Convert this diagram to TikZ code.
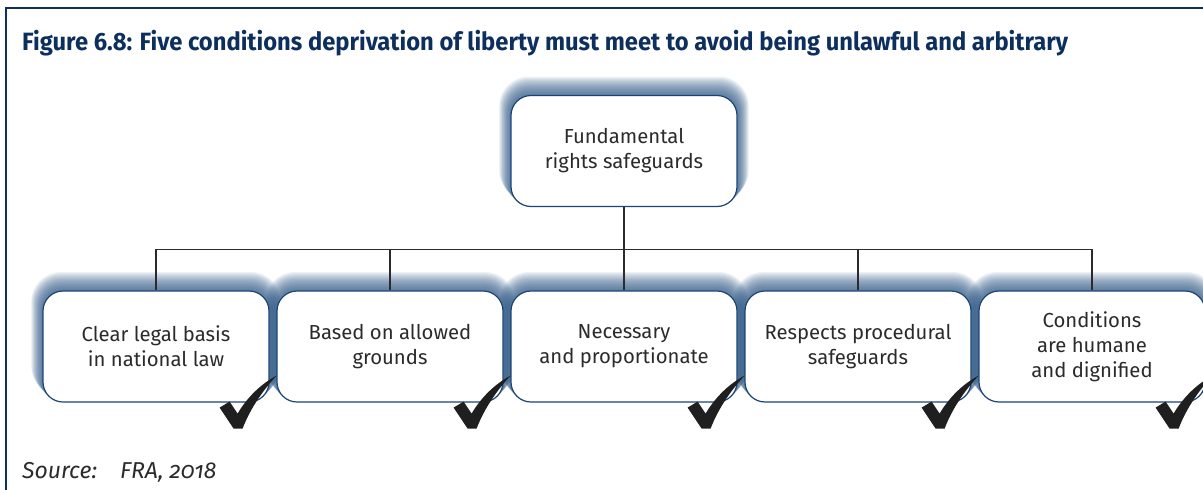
\documentclass[tikz,border=0pt]{standalone}
\usepackage{fontspec}
\setsansfont{Fira Sans}
\renewcommand\familydefault{\sfdefault}
\newfontfamily\titlefont{Fira Sans}[FakeStretch=0.95]
\usetikzlibrary{positioning, backgrounds, calc}

\definecolor{navy}{HTML}{0D2F5E}
\definecolor{glowblue}{HTML}{24507F}
\definecolor{boxline}{HTML}{1B4476}
\definecolor{inkgrey}{HTML}{2B2B2B}

\tikzset{
  box/.style={draw=boxline, line width=1.2pt, fill=white, rounded corners=20pt,
    minimum width=226pt, minimum height=111pt, align=center, inner sep=0pt,
    font=\fontsize{20.3}{25}\selectfont, text=inkgrey},
  link/.style={draw=inkgrey, line width=1.2pt},
  tick/.style={fill=black!88},
  frame/.style={draw=navy, line width=1.5pt},
}

\begin{document}
\begin{tikzpicture}[x=1pt, y=-1pt]
    \useasboundingbox (0,0) rectangle (1203,490);

    % Frame and title
    \draw[frame] (6,490) -- (6,8) -- (1203,8);
    \node[anchor=base west, text=navy, inner sep=0pt,
          font=\titlefont\bfseries\fontsize{25}{30}\selectfont] (title) at (22,50)
        {Figure 6.8: Five conditions deprivation of liberty must meet to avoid being unlawful and arbitrary};

    % Boxes
    \node[box] (top) at (624,151) {Fundamental\\rights safeguards};
    \foreach \k/\nm/\txt in {0/legal/{Clear legal basis\\in national law},
                             1/grounds/{Based on allowed\\grounds},
                             2/necessary/{Necessary\\and proportionate},
                             3/procedural/{Respects procedural\\safeguards},
                             4/dignity/{Conditions\\are humane\\and dignified}} {
        \node[box] (\nm) at ({156+234*\k},346.5) {\txt};
    }

    % Glow behind the boxes
    \begin{scope}[on background layer]
        \foreach \nm in {top,legal,grounds,necessary,procedural,dignity} {
            \foreach \r in {1,...,16} {
                \pgfmathsetmacro\rr{20+0.6*\r}
                \fill[glowblue, opacity=0.075, rounded corners=\rr pt]
                    ($(\nm.north west)+(-0.7*\r,-1.15*\r)$) rectangle ($(\nm.south east)+(0.7*\r,-0.45*\r)$);
            }
        }
    \end{scope}

    % Connectors
    \coordinate (fork) at ($(top.south)+(0,42)$);
    \draw[link] (top.south) -- (fork);
    \draw[link] (legal.north |- fork) -- (dignity.north |- fork);
    \foreach \nm in {legal,grounds,necessary,procedural,dignity} {
        \draw[link] (\nm.north |- fork) -- (\nm.north);
    }

    % Check marks
    \foreach \nm in {legal,grounds,necessary,procedural,dignity} {
        \fill[tick, shift={($(\nm.south east)+(-32,24)$)}]
            (-18,-19) -- (-8,-25) -- (0,-13)
            .. controls (10,-30) and (24,-43) .. (39,-51)
            .. controls (26,-37) and (13,-19) .. (5,2) -- (-4,2) -- cycle;
    }

    % Source
    \node[anchor=base west, inner sep=0pt, text=inkgrey,
          font=\itshape\addfontfeatures{Numbers=OldStyle}\fontsize{23}{28}\selectfont] (source) at (22,478)
        {Source:\quad FRA, 2018};
\end{tikzpicture}
\end{document}
